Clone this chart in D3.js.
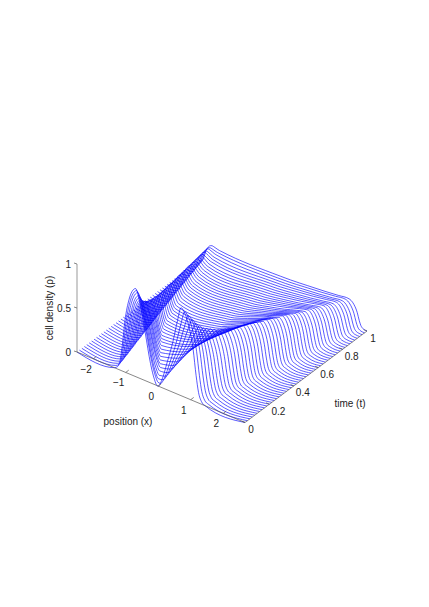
<!DOCTYPE html>
<html><head><meta charset="utf-8"><script src="https://cdn.jsdelivr.net/npm/d3@7"></script>
<style>html,body{margin:0;background:#fff}svg{display:block}text{font-family:"Liberation Sans",Arial,sans-serif;fill:#222}</style>
</head><body><svg id="c" width="429" height="607"></svg><script>
const footL=[-1.35,-1.38,-1.40,-1.42,-1.45,-1.47,-1.49,-1.52,-1.54,-1.56,-1.58,-1.61,-1.63,-1.65,-1.67,-1.70,-1.72,-1.74,-1.76,-1.79,-1.81,-1.83,-1.85,-1.88,-1.90,-1.92,-1.95,-1.97,-1.99,-2.01,-2.04,-2.06,-2.08,-2.10,-2.13,-2.15,-2.17,-2.19,-2.22,-2.24,-2.26,-2.28,-2.31,-2.33,-2.35,-2.37,-2.40,-2.42,-2.44,-2.46,-2.49];
const footR=[1.45,1.47,1.50,1.52,1.55,1.57,1.59,1.62,1.64,1.66,1.69,1.71,1.73,1.76,1.78,1.80,1.83,1.85,1.87,1.90,1.92,1.94,1.97,1.99,2.01,2.04,2.06,2.08,2.11,2.13,2.15,2.18,2.20,2.22,2.25,2.27,2.29,2.32,2.34,2.36,2.39,2.41,2.43,2.46,2.48,2.50,2.53,2.55,2.57,2.60,2.62];
const peakXL=[0.70,0.74,0.78,0.82,0.86,0.90,0.94,0.97,1.01,1.06,1.10,1.14,1.17,1.21,1.24,1.27,1.30,1.33,1.36,1.38,1.41,1.44,1.47,1.50,1.52,1.55,1.57,1.60,1.62,1.65,1.67,1.69,1.72,1.74,1.77,1.79,1.81,1.83,1.86,1.88,1.90,1.92,1.94,1.96,1.98,2.00,2.02,2.04,2.06,2.08,2.10];
const peakXR=[0.70,0.74,0.78,0.82,0.86,0.90,0.94,0.97,1.01,1.06,1.10,1.14,1.17,1.21,1.24,1.27,1.30,1.33,1.36,1.38,1.41,1.44,1.47,1.50,1.52,1.55,1.57,1.60,1.62,1.65,1.67,1.70,1.72,1.75,1.77,1.79,1.82,1.84,1.86,1.88,1.90,1.92,1.95,1.97,1.99,2.01,2.03,2.05,2.07,2.09,2.12];
const peakZL=[1.00,0.95,0.90,0.84,0.79,0.74,0.70,0.67,0.64,0.61,0.58,0.56,0.54,0.52,0.50,0.48,0.47,0.46,0.44,0.43,0.42,0.41,0.40,0.39,0.38,0.38,0.37,0.36,0.35,0.34,0.34,0.33,0.33,0.32,0.31,0.31,0.30,0.30,0.29,0.28,0.28,0.27,0.27,0.26,0.26,0.25,0.25,0.24,0.24,0.23,0.23];
const peakZR=[1.00,0.94,0.88,0.82,0.76,0.72,0.68,0.66,0.64,0.62,0.60,0.59,0.58,0.57,0.56,0.55,0.54,0.54,0.53,0.53,0.52,0.51,0.50,0.49,0.49,0.48,0.47,0.46,0.45,0.45,0.44,0.43,0.42,0.41,0.40,0.39,0.38,0.38,0.37,0.36,0.35,0.34,0.34,0.33,0.32,0.31,0.31,0.30,0.29,0.29,0.28];
const valley=[0.00,0.01,0.03,0.05,0.07,0.09,0.11,0.13,0.15,0.17,0.18,0.19,0.20,0.20,0.21,0.21,0.21,0.21,0.21,0.21,0.21,0.21,0.21,0.21,0.21,0.21,0.21,0.21,0.21,0.21,0.21,0.21,0.21,0.21,0.21,0.21,0.21,0.21,0.21,0.21,0.21,0.21,0.21,0.21,0.21,0.21,0.21,0.21,0.21,0.21,0.21];
const kneeXL=[-0.04,-0.08,-0.15,-0.20,-0.26,-0.31,-0.39,-0.46,-0.53,-0.60,-0.66,-0.73,-0.80,-0.87,-0.94,-1.00,-1.04,-1.08,-1.12,-1.16,-1.18,-1.20,-1.22,-1.25,-1.29,-1.32,-1.33,-1.34,-1.36,-1.39,-1.42,-1.43,-1.45,-1.47,-1.50,-1.53,-1.54,-1.56,-1.59,-1.61,-1.63,-1.65,-1.67,-1.69,-1.71,-1.74,-1.76,-1.78,-1.80,-1.82,-1.84];
const kneeZL=[0.00,0.01,0.02,0.03,0.05,0.06,0.07,0.08,0.09,0.10,0.11,0.12,0.13,0.135,0.14,0.15,0.155,0.16,0.165,0.17,0.175,0.178,0.18,0.182,0.185,0.188,0.19,0.192,0.195,0.198,0.20,0.20,0.20,0.20,0.20,0.20,0.20,0.20,0.20,0.20,0.20,0.20,0.20,0.20,0.20,0.205,0.205,0.205,0.21,0.21,0.21];
const outerShape=[[0,1],[0.12,0.97],[0.3,0.85],[0.5,0.58],[0.62,0.3],[0.72,0.12],[0.84,0.03],[1,0]];
const leftInnerShape=[[0.2,0.86],[0.45,0.55],[0.7,0.22],[0.88,0.06]];
const rightInnerShape=[[0.15,0.84],[0.35,0.58],[0.6,0.32],[0.85,0.08]];
const timeStep=0.02;

const xTicks=[-2,-1,0,1,2], tTicks=[0,0.2,0.4,0.6,0.8,1], zTicks=[0,0.5,1];
const xTickLabels=["\u22122","\u22121","0","1","2"], tTickLabels=["0","0.2","0.4","0.6","0.8","1"], zTickLabels=["0","0.5","1"];

const originX=77, originY=352;
const xToPx=d3.scaleLinear([-2.5,2.67],[0,168]), xToPy=d3.scaleLinear([-2.5,2.67],[0,70.5]);
const tToPx=d3.scaleLinear([0,1],[0,122]), tToPy=d3.scaleLinear([0,1],[0,-91.5]);
const zToPy=d3.scaleLinear([0,1],[0,-88]);
const px=(x,t)=>originX+xToPx(x)+tToPx(t);
const py=(x,t,z)=>originY+xToPy(x)+tToPy(t)+zToPy(z);

const svg=d3.select("#c");
const g=svg.append("g");
const line=d3.line().x(d=>px(d[0],d[2])).y(d=>py(d[0],d[2],d[1])).curve(d3.curveMonotoneX);

function knots(i){
  const t=i*timeStep, pts=[[-2.5,0]];
  const pl=-peakXL[i], pr=peakXR[i];
  [...outerShape].reverse().forEach(([f,r])=>pts.push([pl+(footL[i]-pl)*f,peakZL[i]*r]));
  leftInnerShape.forEach(([f,r])=>pts.push([pl+(kneeXL[i]-pl)*f,kneeZL[i]+(peakZL[i]-kneeZL[i])*r]));
  pts.push([kneeXL[i],kneeZL[i]]);
  pts.push([0,valley[i]]);
  [...rightInnerShape].reverse().forEach(([f,r])=>pts.push([pr*(1-f),valley[i]+(peakZR[i]-valley[i])*r]));
  outerShape.forEach(([f,r])=>pts.push([pr+(footR[i]-pr)*f,peakZR[i]*r]));
  pts.push([2.67,0]);
  return pts.map(p=>[p[0],p[1],t]);
}
g.selectAll("path.c").data(d3.range(footL.length)).join("path").attr("class","c")
 .attr("d",i=>line(knots(i))).attr("fill","none").attr("stroke","#0000ff").attr("stroke-width",0.65);

const ax=svg.append("g");
const seg=(a,b,c,w)=>ax.append("line").attr("x1",a[0]).attr("y1",a[1]).attr("x2",b[0]).attr("y2",b[1]).attr("stroke",c).attr("stroke-width",w);
const P=(x,t,z)=>[px(x,t),py(x,t,z)];
seg(P(-2.5,0,0),P(-2.5,0,1),"#999",1);
seg(P(-2.5,0,0),P(2.67,0,0),"#555",0.7);
seg(P(2.67,0,0),P(2.67,1,0),"#555",0.7);
zTicks.forEach(z=>{const p=P(-2.5,0,z);seg(p,[p[0]-3,p[1]-1],"#555",0.7)});
xTicks.forEach(x=>{const p=P(x,0,0);seg(p,[p[0]+3,p[1]-2.3],"#555",0.7)});
tTicks.forEach(t=>{const p=P(2.67,t,0);seg(p,[p[0]-3.2,p[1]-1.4],"#555",0.7)});
const label=(x,y,s,rot)=>{const e=svg.append("text").attr("x",x).attr("y",y).attr("text-anchor","middle").attr("font-size",10).text(s);if(rot)e.attr("transform",`rotate(${rot} ${x} ${y})`);return e};
zTicks.forEach((z,i)=>{const p=P(-2.5,0,z);svg.append("text").attr("x",p[0]-6).attr("y",p[1]+3.5).attr("text-anchor","end").attr("font-size",10).text(zTickLabels[i])});
xTicks.forEach((x,i)=>{const p=P(x,0,0);label(p[0]-7,p[1]+14,xTickLabels[i])});
tTicks.forEach((t,i)=>{const p=P(2.67,t,0);label(p[0]+(i==0||i==5?6:9),p[1]+10.5,tTickLabels[i])});
label(53,308,"cell density (\u03c1)",-90);
label(128,425,"position (x)");
label(350,407,"time (t)");
</script></body></html>
